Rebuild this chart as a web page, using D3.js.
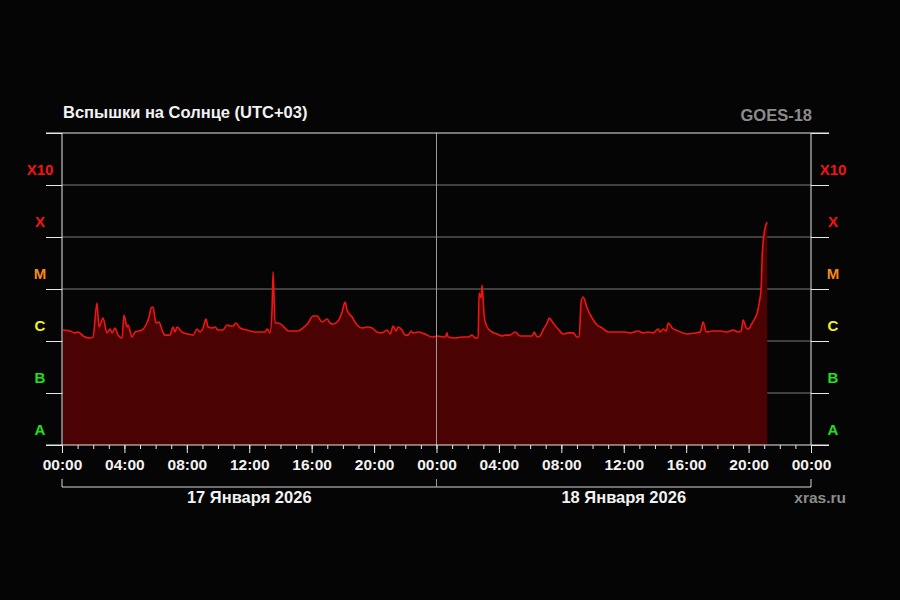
<!DOCTYPE html>
<html>
<head>
<meta charset="utf-8">
<script src="https://cdn.jsdelivr.net/npm/d3@7"></script>
<style>
  html, body { margin: 0; padding: 0; background: #050505; }
  svg { display: block; font-family: "Liberation Sans", Arial, sans-serif; font-weight: bold; }
</style>
</head>
<body>
<div id="chart"></div>
<script>
// hours since 17 Jan 2026 00:00 (UTC+03)
var hours = [0.06, 0.51, 0.83, 1.03, 1.35, 1.79, 1.99, 2.24, 2.37, 2.63, 2.88, 3.08, 3.21, 3.40, 3.59, 3.85,
  3.97, 4.17, 4.23, 4.49, 4.68, 5.13, 5.38, 5.58, 5.71, 5.83, 6.03, 6.22, 6.41, 6.60, 6.92, 7.12,
  7.24, 7.37, 7.69, 8.08, 8.40, 8.65, 8.85, 9.04, 9.23, 9.36, 9.62, 9.81, 10.00, 10.32, 10.58, 10.77,
  10.96, 11.15, 11.41, 11.73, 12.05, 12.37, 13.01, 13.14, 13.33, 13.46, 13.53, 13.65, 13.85, 14.29,
  14.49, 15.13, 15.45, 15.77, 16.09, 16.35, 16.67, 16.99, 17.18, 17.37, 17.69, 17.95, 18.14, 18.27,
  18.59, 18.91, 19.23, 19.55, 19.87, 20.19, 20.51, 20.83, 21.03, 21.22, 21.41, 21.54, 21.79, 21.99,
  22.18, 22.37, 22.50, 22.82, 23.27, 23.72, 24.04, 24.55, 24.68, 24.74, 25.19, 25.64, 26.03, 26.28,
  26.47, 26.67, 26.73, 26.86, 26.92, 27.05, 27.24, 27.56, 27.88, 28.21, 28.40, 28.72, 29.04, 29.36,
  29.81, 30.13, 30.26, 30.45, 30.64, 30.83, 31.09, 31.22, 31.47, 31.79, 32.12, 32.44, 32.76, 33.01,
  33.14, 33.27, 33.40, 33.65, 33.97, 34.29, 34.62, 35.00, 35.45, 36.09, 36.41, 36.92, 37.24, 37.56,
  37.88, 38.21, 38.33, 38.53, 38.72, 38.85, 39.10, 39.49, 40.06, 40.58, 40.90, 41.09, 41.28, 41.67,
  42.18, 42.63, 43.01, 43.33, 43.53, 43.65, 43.85, 43.97, 44.23, 44.42, 44.55, 44.68, 44.81, 44.87,
  45.00, 45.13, 45.19];

// X-ray flux, W/m^2
var flux = [1.63e-6, 1.56e-6, 1.43e-6, 1.49e-6, 1.25e-6, 1.14e-6, 1.19e-6, 5.38e-6, 1.86e-6, 2.77e-6, 1.43e-6, 1.70e-6, 1.43e-6, 1.78e-6, 1.30e-6, 1.14e-6,
  3.16e-6, 1.86e-6, 2.03e-6, 1.19e-6, 1.49e-6, 1.63e-6, 2.03e-6, 2.89e-6, 4.31e-6, 4.51e-6, 2.22e-6, 2.32e-6, 1.63e-6, 1.30e-6, 1.30e-6, 1.86e-6,
  1.49e-6, 1.86e-6, 1.49e-6, 1.36e-6, 1.30e-6, 1.70e-6, 1.49e-6, 1.78e-6, 2.65e-6, 1.86e-6, 1.78e-6, 1.86e-6, 1.63e-6, 1.63e-6, 2.03e-6, 1.94e-6,
  1.94e-6, 2.22e-6, 1.78e-6, 1.66e-6, 1.56e-6, 1.49e-6, 1.49e-6, 1.70e-6, 1.43e-6, 3.94e-6, 2.13e-5, 2.22e-6, 2.22e-6, 1.78e-6,
  1.56e-6, 1.56e-6, 1.78e-6, 2.22e-6, 3.02e-6, 3.02e-6, 2.32e-6, 2.65e-6, 2.22e-6, 2.12e-6, 2.42e-6, 3.61e-6, 5.63e-6, 3.94e-6,
  2.89e-6, 2.03e-6, 1.78e-6, 1.86e-6, 1.78e-6, 1.49e-6, 1.43e-6, 1.63e-6, 1.36e-6, 1.94e-6, 1.56e-6, 1.86e-6, 1.63e-6, 1.30e-6,
  1.30e-6, 1.56e-6, 1.43e-6, 1.49e-6, 1.36e-6, 1.19e-6, 1.25e-6, 1.19e-6, 1.43e-6, 1.19e-6, 1.14e-6, 1.19e-6, 1.19e-6, 1.30e-6,
  1.14e-6, 1.14e-6, 8.38e-6, 6.72e-6, 1.19e-5, 3.16e-6, 1.86e-6, 1.49e-6, 1.36e-6, 1.25e-6, 1.30e-6, 1.30e-6, 1.49e-6, 1.25e-6,
  1.25e-6, 1.25e-6, 1.49e-6, 1.19e-6, 1.25e-6, 1.63e-6, 2.22e-6, 2.77e-6, 2.22e-6, 1.70e-6, 1.36e-6, 1.43e-6, 1.43e-6, 1.19e-6,
  1.19e-6, 5.63e-6, 7.03e-6, 4.31e-6, 2.77e-6, 2.03e-6, 1.78e-6, 1.49e-6, 1.49e-6, 1.49e-6, 1.43e-6, 1.56e-6, 1.43e-6, 1.49e-6,
  1.43e-6, 1.70e-6, 1.49e-6, 1.70e-6, 1.56e-6, 2.22e-6, 1.78e-6, 1.56e-6, 1.36e-6, 1.43e-6, 1.49e-6, 2.32e-6, 1.49e-6, 1.56e-6,
  1.56e-6, 1.49e-6, 1.63e-6, 1.49e-6, 1.56e-6, 2.53e-6, 1.78e-6, 1.70e-6, 2.22e-6, 2.77e-6, 3.45e-6, 5.38e-6, 1.09e-5, 4.12e-5,
  1.19e-4, 1.78e-4, 1.94e-4];

var classNames = ["A", "B", "C", "M", "X", "X10"];
var classBase = [1e-8, 1e-7, 1e-6, 1e-5, 1e-4, 1e-3];
var classColors = ["#1fe01f", "#1fe01f", "#f2f21c", "#f58a16", "#f51414", "#f51414"];
var gridValues = [1e-7, 1e-6, 1e-5, 1e-4, 1e-3];
var timeTicks = [0, 4, 8, 12, 16, 20, 24, 28, 32, 36, 40, 44, 48];
var timeLabels = ["00:00", "04:00", "08:00", "12:00", "16:00", "20:00", "00:00", "04:00", "08:00", "12:00", "16:00", "20:00", "00:00"];
var dayStarts = [0, 24, 48];
var dayLabels = ["17 Января 2026", "18 Января 2026"];

(function () {
  var width = 900, height = 600;
  var plotLeft = 62, plotRight = 811, plotTop = 133, plotBottom = 445;

  var svg = d3.select("#chart").append("svg")
    .attr("width", width)
    .attr("height", height);

  svg.append("rect").attr("width", width).attr("height", height).attr("fill", "#050505");

  var x = d3.scaleLinear().domain([0, 48]).range([plotLeft, plotRight]);
  var y = d3.scaleLog().domain([1e-8, 1e-2]).range([plotBottom, plotTop]);

  var data = hours.map(function (h, i) { return { h: h, f: flux[i] }; });

  // horizontal grid
  svg.append("g")
    .selectAll("line")
    .data(gridValues)
    .enter().append("line")
    .attr("x1", plotLeft).attr("x2", plotRight)
    .attr("y1", function (d) { return y(d); })
    .attr("y2", function (d) { return y(d); })
    .attr("stroke", "#7a7a7a")
    .attr("stroke-width", 1);

  // area + line
  var area = d3.area()
    .curve(d3.curveMonotoneX)
    .x(function (d) { return x(d.h); })
    .y0(plotBottom)
    .y1(function (d) { return y(d.f); });

  var line = d3.line()
    .curve(d3.curveMonotoneX)
    .x(function (d) { return x(d.h); })
    .y(function (d) { return y(d.f); });

  svg.append("path")
    .datum(data)
    .attr("d", area)
    .attr("fill", "#4a0203");

  svg.append("path")
    .datum(data)
    .attr("d", line)
    .attr("fill", "none")
    .attr("stroke", "#f01414")
    .attr("stroke-width", 1.6)
    .attr("stroke-linejoin", "round");

  // day separator
  svg.append("line")
    .attr("x1", x(24)).attr("x2", x(24))
    .attr("y1", plotTop).attr("y2", plotBottom)
    .attr("stroke", "#9a9a9a");

  // left and right axes
  var yTicks = classBase.concat([1e-2]);
  var yLeft = d3.axisLeft(y).tickValues(yTicks).tickSize(16).tickFormat("");
  var yRight = d3.axisRight(y).tickValues(yTicks).tickSize(18).tickFormat("");

  svg.append("g").attr("class", "axis").attr("transform", "translate(" + plotLeft + ",0)").call(yLeft);
  svg.append("g").attr("class", "axis").attr("transform", "translate(" + plotRight + ",0)").call(yRight);

  // class labels
  classNames.forEach(function (name, i) {
    [40, 833].forEach(function (cx) {
      svg.append("text")
        .attr("x", cx)
        .attr("y", y(classBase[i]) - 10)
        .attr("text-anchor", "middle")
        .attr("font-size", 15)
        .attr("fill", classColors[i])
        .text(name);
    });
  });

  // bottom axis
  var xMinor = d3.axisBottom(x).tickValues(d3.range(0, 49)).tickSize(4).tickFormat("");
  var xMajor = d3.axisBottom(x).tickValues(timeTicks).tickSize(8)
    .tickFormat(function (d, i) { return timeLabels[i]; });

  svg.append("g").attr("class", "axis").attr("transform", "translate(0," + plotBottom + ")").call(xMinor);
  var gx = svg.append("g").attr("class", "axis").attr("transform", "translate(0," + plotBottom + ")").call(xMajor);
  gx.selectAll("text")
    .attr("y", 14)
    .attr("font-size", 15.5)
    .attr("font-family", "Liberation Sans, Arial, sans-serif")
    .attr("font-weight", "bold")
    .attr("fill", "#f2f2f2");

  svg.selectAll(".axis path").remove();
  svg.selectAll(".axis line").attr("stroke", "#e8e8e8");

  // frame lines
  svg.append("line")
    .attr("x1", 46).attr("x2", 829)
    .attr("y1", plotTop).attr("y2", plotTop)
    .attr("stroke", "#e8e8e8");
  svg.append("line")
    .attr("x1", 46).attr("x2", 829)
    .attr("y1", plotBottom).attr("y2", plotBottom)
    .attr("stroke", "#e8e8e8");
  svg.append("line")
    .attr("x1", plotLeft).attr("x2", plotLeft)
    .attr("y1", plotTop).attr("y2", plotBottom)
    .attr("stroke", "#e8e8e8");
  svg.append("line")
    .attr("x1", plotRight).attr("x2", plotRight)
    .attr("y1", plotTop).attr("y2", plotBottom)
    .attr("stroke", "#e8e8e8");

  // date bracket
  var bracketY = 487;
  svg.append("line")
    .attr("x1", x(0)).attr("x2", x(48))
    .attr("y1", bracketY).attr("y2", bracketY)
    .attr("stroke", "#d8d8d8");
  svg.append("g")
    .selectAll("line")
    .data(dayStarts)
    .enter().append("line")
    .attr("x1", function (d) { return x(d); })
    .attr("x2", function (d) { return x(d); })
    .attr("y1", bracketY - 8).attr("y2", bracketY)
    .attr("stroke", function (d) { return d === 24 ? "#9a9a9a" : "#d8d8d8"; });

  dayLabels.forEach(function (lbl, i) {
    svg.append("text")
      .attr("x", x(dayStarts[i] + 12))
      .attr("y", 503)
      .attr("text-anchor", "middle")
      .attr("font-size", 16.5)
      .attr("fill", "#f2f2f2")
      .text(lbl);
  });

  // titles
  svg.append("text")
    .attr("x", 63).attr("y", 118)
    .attr("font-size", 16.5)
    .attr("fill", "#f2f2f2")
    .text("Вспышки на Солнце (UTC+03)");

  svg.append("text")
    .attr("x", 812).attr("y", 121)
    .attr("text-anchor", "end")
    .attr("font-size", 16.5)
    .attr("fill", "#8c8c8c")
    .text("GOES-18");

  svg.append("text")
    .attr("x", 846).attr("y", 503)
    .attr("text-anchor", "end")
    .attr("font-size", 15.5)
    .attr("fill", "#8c8c8c")
    .text("xras.ru");
})();
</script>
</body>
</html>
